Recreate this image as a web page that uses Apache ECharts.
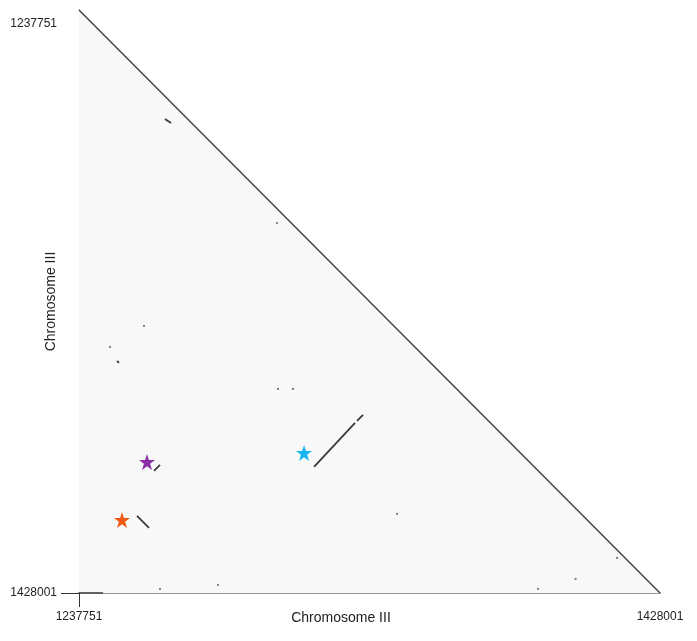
<!DOCTYPE html>
<html>
<head>
<meta charset="utf-8">
<script src="https://cdn.jsdelivr.net/npm/echarts@6/dist/echarts.min.js"></script>
<style>html,body{margin:0;padding:0;background:#fff}#c{width:697px;height:641px}</style>
</head>
<body>
<div id="c"></div>
<script>
// Chromosome III range (bp)
const axisMin = 1237751;
const axisMax = 1428001;
const tickLabels = [1237751, 1428001];
const axisTitle = 'Chromosome III';

// dot-plot match segments [x1, y1, x2, y2]
const matchSegments = [
  [1256746, 1402859, 1260676, 1406775],
  [1262314, 1388175, 1264279, 1386217],
  [1314714, 1386869, 1328142, 1372511],
  [1328797, 1371859, 1330761, 1369901],
  [1265916, 1273318, 1267881, 1274623],
  [1250196, 1352282, 1250851, 1352934]
];
// isolated small matches [x, y]
const specks = [
  [1302596, 1307253], [1259039, 1340862], [1247904, 1347714],
  [1302924, 1361419], [1307836, 1361419], [1341896, 1402206],
  [1413946, 1416563], [1400374, 1423415], [1388073, 1426678],
  [1264279, 1426678], [1283274, 1425373]
];
// highlighted features (stars)
const starOrange = [[1251833, 1404164]];
const starPurple = [[1260021, 1385239]];
const starCyan = [[1311439, 1382302]];

const starPath = 'path://M50,0 L61.8,35.4 L99,35.4 L69,57.3 L80.4,92.7 L50,70.8 L19.6,92.7 L31,57.3 L1,35.4 L38.2,35.4 Z';
const font = 'Liberation Sans, Arial, Helvetica, sans-serif';

const chart = echarts.init(document.getElementById('c'));
chart.setOption({
  animation: false,
  backgroundColor: '#ffffff',
  grid: { left: 79, top: 10, right: 37, bottom: 48, containLabel: false, outerBoundsMode: 'none' },
  xAxis: {
    type: 'value', min: axisMin, max: axisMax,
    name: axisTitle, nameLocation: 'middle', nameGap: 18, nameMoveOverlap: false,
    nameTextStyle: { fontSize: 14, color: '#222', fontFamily: font, padding: [0, 57, 0, 0], verticalAlign: 'top' },
    splitLine: { show: false },
    axisLine: { show: true, lineStyle: { color: '#999', width: 2 } },
    axisTick: { show: true, customValues: [axisMin], length: 14, lineStyle: { color: '#333', width: 1 } },
    axisLabel: { customValues: tickLabels, margin: 18, fontSize: 12, color: '#222', fontFamily: font, formatter: v => String(v) }
  },
  yAxis: {
    type: 'value', min: axisMin, max: axisMax, inverse: true,
    name: axisTitle, nameLocation: 'middle', nameGap: 21, nameMoveOverlap: false,
    nameTextStyle: { fontSize: 14, color: '#222', fontFamily: font },
    splitLine: { show: false },
    axisLine: { show: true, lineStyle: { color: '#333', width: 1 } },
    axisTick: { show: true, customValues: [axisMax], length: 18, lineStyle: { color: '#333', width: 1 } },
    axisLabel: {
      customValues: tickLabels, margin: 22, fontSize: 12, color: '#222', fontFamily: font,
      formatter: v => (v === axisMin ? '{t|' + v + '}' : '{b|' + v + '}'),
      rich: {
        t: { padding: [27, 0, 0, 0], fontSize: 12, color: '#222', fontFamily: font },
        b: { fontSize: 12, color: '#222', fontFamily: font }
      }
    }
  },
  series: [
    {
      type: 'custom', silent: true, z: 1,
      data: [[axisMin, axisMin, axisMax, axisMax]],
      renderItem: (params, api) => {
        const a = api.coord([api.value(0), api.value(1)]);
        const b = api.coord([api.value(2), api.value(3)]);
        const c = api.coord([api.value(0), api.value(3)]);
        return { type: 'polygon', shape: { points: [a, b, c] }, style: { fill: '#f8f8f8' } };
      }
    },
    {
      type: 'line', silent: true, z: 3, symbol: 'none',
      data: [[axisMin, axisMin], [axisMax, axisMax]],
      lineStyle: { color: '#444', width: 1.5 }
    },
    {
      type: 'line', silent: true, z: 4, symbol: 'none',
      data: [[axisMin, axisMax], [axisMin + 7860, axisMax]],
      lineStyle: { color: '#333', width: 1.5 }
    },
    {
      type: 'custom', silent: true, z: 5,
      data: matchSegments,
      renderItem: (params, api) => {
        const a = api.coord([api.value(0), api.value(1)]);
        const b = api.coord([api.value(2), api.value(3)]);
        return { type: 'line', shape: { x1: a[0], y1: a[1], x2: b[0], y2: b[1] }, style: { stroke: '#3a3a3a', lineWidth: 1.8 } };
      }
    },
    {
      type: 'scatter', silent: true, z: 5, symbol: 'circle', symbolSize: 2.2,
      data: specks, itemStyle: { color: '#777', opacity: 1 }
    },
    { type: 'scatter', silent: true, z: 6, symbol: starPath, symbolSize: 16, data: starOrange, itemStyle: { color: '#ee5a12', opacity: 1 } },
    { type: 'scatter', silent: true, z: 6, symbol: starPath, symbolSize: 16, data: starPurple, itemStyle: { color: '#8b2fa6', opacity: 1 } },
    { type: 'scatter', silent: true, z: 6, symbol: starPath, symbolSize: 16, data: starCyan, itemStyle: { color: '#19b5ee', opacity: 1 } }
  ]
});
</script>
</body>
</html>
